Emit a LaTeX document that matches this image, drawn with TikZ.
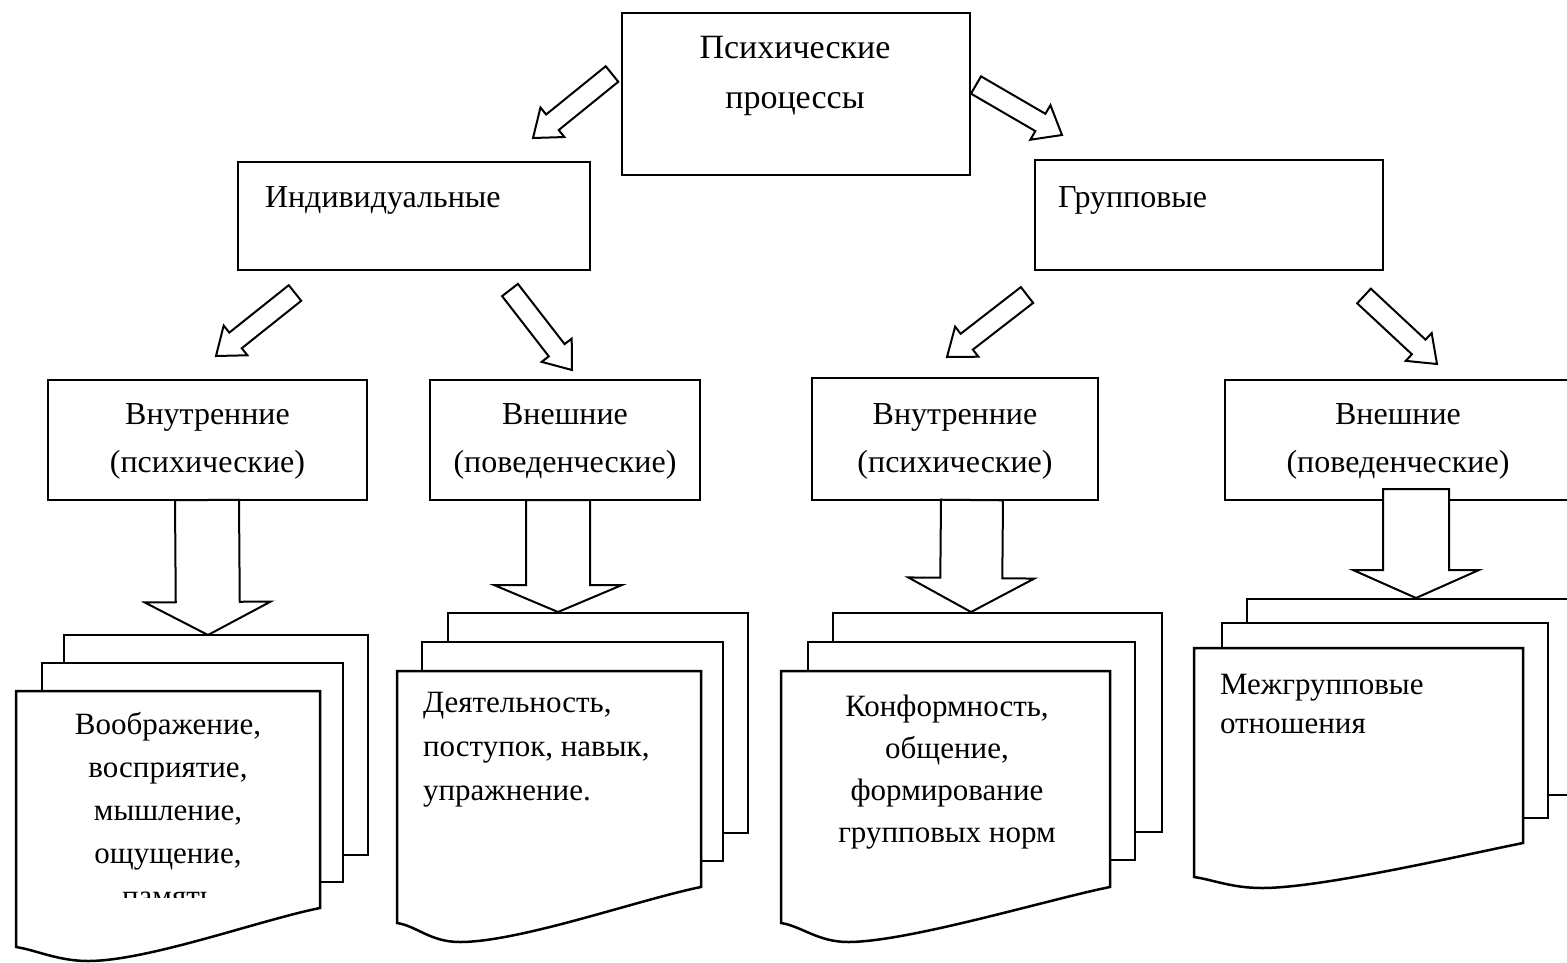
\documentclass[tikz,border=0pt]{standalone}
\usepackage{fontspec}
\setmainfont{Liberation Serif}
\usetikzlibrary{calc}
\tikzset{
  box/.style={draw, line width=2.5pt, fill=white, inner sep=0pt, outer sep=0pt},
  blk/.style={draw, line width=2pt, fill=white, line join=miter},
  page/.style={draw, line width=2.5pt, fill=white, line join=miter},
  lbl/.style={inner sep=0pt, outer sep=0pt, align=center, font=\fontsize{32}{48}\selectfont},
}
% block arrow: #1 tail centre, #2 tip, #3 shaft half width, #4 head half width, #5 head length
\newcommand{\blkarr}[5]{%
  \coordinate (tmpN) at ($(#2)!#5!(#1)$);
  \draw[blk] ($(#1)!#3!90:(#2)$) -- ($(tmpN)!#3!-90:(#1)$) -- ($(tmpN)!#4!-90:(#1)$) -- (#2)
     -- ($(tmpN)!#4!90:(#1)$) -- ($(tmpN)!#3!90:(#1)$) -- ($(#1)!#3!-90:(#2)$) -- cycle;}
% front page of a stack: L, T, R, right bottom, left bottom, trough x, trough y
\newcommand{\frontdoc}[7]{%
  \draw[page] (#1,#2) -- (#3,#2) -- (#3,#4)
    .. controls ({#3-60},{#4+12}) and ({#6+60},#7) .. (#6,#7)
    .. controls ({#6-30},#7) and ({#1+20},{#5+3}) .. (#1,#5) -- cycle;}
\begin{document}
\begin{tikzpicture}[x=1pt,y=-1pt]
\useasboundingbox (0,0) rectangle (1567,962);
\clip (0,0) rectangle (1567,962);
\fill[white] (0,0) rectangle (1567,962);

% boxes
\node[box, minimum width=348pt, minimum height=162pt] (top) at (796,94) {};
\node[box, minimum width=352pt, minimum height=108pt] (ind) at (414,216) {};
\node[box, minimum width=348pt, minimum height=110pt] (grp) at (1209,215) {};
\node[box, minimum width=319pt, minimum height=120pt] (b1) at (207.5,440) {};
\node[box, minimum width=270pt, minimum height=120pt] (b2) at (565,440) {};
\node[box, minimum width=286pt, minimum height=122pt] (b3) at (955,439) {};
\node[box, minimum width=347pt, minimum height=120pt] (b4) at (1398.5,440) {};

% document stacks
\draw[page] (64,635) rectangle (368,855);
\draw[page] (42,663) rectangle (343,882);
\frontdoc{16}{691}{320}{908}{947}{88}{961}

\draw[page] (448,613) rectangle (748,833);
\draw[page] (422,642) rectangle (723,861);
\frontdoc{397}{671}{701}{887}{923}{460}{942}

\draw[page] (833,613) rectangle (1162,832);
\draw[page] (808,642) rectangle (1135,860);
\frontdoc{781}{671}{1110}{887}{923}{848}{942}

\draw[page] (1247,599) rectangle (1600,795);
\draw[page] (1222,623) rectangle (1548,818);
\frontdoc{1194}{648}{1523}{843}{877}{1262}{888}

% arrow ends
\coordinate (tA) at (612,74);   \coordinate (hA) at (533,138);
\coordinate (tB) at (976,85);   \coordinate (hB) at (1062,135);
\coordinate (tC) at (295,293);  \coordinate (hC) at (216,356);
\coordinate (tD) at (510,290);  \coordinate (hD) at (572,370);
\coordinate (tE) at (1027,295); \coordinate (hE) at (947,357);
\coordinate (tF) at (1364,296); \coordinate (hF) at (1437,364);
\coordinate (tV1) at (207,500);  \coordinate (hV1) at (208,635);
\coordinate (tV2) at (558,500);  \coordinate (hV2) at (558,612);
\coordinate (tV3) at (972,500);  \coordinate (hV3) at (971,612);
\coordinate (tV4) at (1416,489); \coordinate (hV4) at (1416,598);

\blkarr{tA}{hA}{10pt}{19pt}{25pt}
\blkarr{tB}{hB}{10pt}{20pt}{25pt}
\blkarr{tC}{hC}{10pt}{19pt}{25pt}
\blkarr{tD}{hD}{10pt}{19pt}{25pt}
\blkarr{tE}{hE}{10pt}{19pt}{25pt}
\blkarr{tF}{hF}{10pt}{19pt}{25pt}
\blkarr{tV1}{hV1}{32pt}{63pt}{33pt}
\blkarr{tV2}{hV2}{32pt}{64pt}{27pt}
\blkarr{tV3}{hV3}{31pt}{63pt}{34pt}
\blkarr{tV4}{hV4}{33pt}{63pt}{28pt}

% texts
\node[lbl, font=\fontsize{34}{50}\selectfont] (topt) at (795,76) {Психические\\процессы};
\node[lbl, anchor=west] (indt) at (265,200) {Индивидуальные};
\node[lbl, anchor=west] (grpt) at (1058,200) {Групповые};
\node[lbl] (b1t) at (207.5,441) {Внутренние\\(психические)};
\node[lbl] (b2t) at (565,441) {Внешние\\(поведенческие)};
\node[lbl] (b3t) at (955,441) {Внутренние\\(психические)};
\node[lbl] (b4t) at (1398,441) {Внешние\\(поведенческие)};

\begin{scope}
  \clip (0,600) rectangle (400,897);
  \node[lbl, font=\fontsize{31}{43}\selectfont] (d1t) at (168,810)
    {Воображение,\\восприятие,\\мышление,\\ощущение,\\память};
\end{scope}
\node[lbl, align=left, anchor=west, font=\fontsize{31}{44}\selectfont] (d2t) at (423,750)
    {Деятельность,\\поступок, навык,\\упражнение.};
\node[lbl, font=\fontsize{31}{42}\selectfont] (d3t) at (947,772)
    {Конформность,\\общение,\\формирование\\групповых норм};
\node[lbl, align=left, anchor=west, font=\fontsize{31}{39}\selectfont] (d4t) at (1220,704)
    {Межгрупповые\\отношения};
\end{tikzpicture}
\end{document}
